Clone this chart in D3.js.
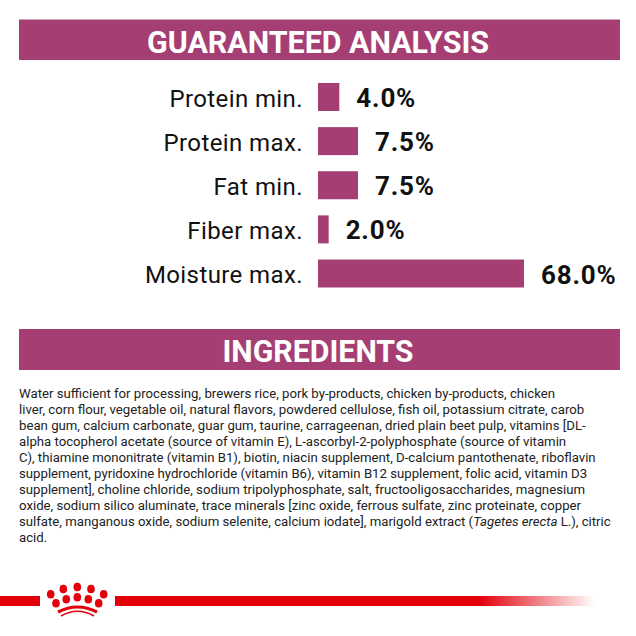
<!DOCTYPE html>
<html>
<head>
<meta charset="utf-8">
<script src="https://cdn.jsdelivr.net/npm/d3@7"></script>
<style>
html, body { margin: 0; padding: 0; background: #fff; }
svg { display: block; }
text { font-family: Roboto, sans-serif; }
</style>
</head>
<body>
<div id="chart"></div>
<script>
const categories = ["Protein min.", "Protein max.", "Fat min.", "Fiber max.", "Moisture max."];
const values = [4.0, 7.5, 7.5, 2.0, 68.0];
const valueLabels = ["4.0%", "7.5%", "7.5%", "2.0%", "68.0%"];
const headings = ["GUARANTEED ANALYSIS", "INGREDIENTS"];
const ingredientLines = [
	"Water sufficient for processing, brewers rice, pork by-products, chicken by-products, chicken",
	"liver, corn flour, vegetable oil, natural flavors, powdered cellulose, fish oil, potassium citrate, carob",
	"bean gum, calcium carbonate, guar gum, taurine, carrageenan, dried plain beet pulp, vitamins [DL-",
	"alpha tocopherol acetate (source of vitamin E), L-ascorbyl-2-polyphosphate (source of vitamin",
	"C), thiamine mononitrate (vitamin B1), biotin, niacin supplement, D-calcium pantothenate, riboflavin",
	"supplement, pyridoxine hydrochloride (vitamin B6), vitamin B12 supplement, folic acid, vitamin D3",
	"supplement], choline chloride, sodium tripolyphosphate, salt, fructooligosaccharides, magnesium",
	"oxide, sodium silico aluminate, trace minerals [zinc oxide, ferrous sulfate, zinc proteinate, copper",
	"sulfate, manganous oxide, sodium selenite, calcium iodate], marigold extract (|Tagetes erecta| L.), citric",
	"acid."
];

const FWIDTH = 636, FHEIGHT = 636;
const PLUM = "#a53f73", RED = "#e2000b";

const svg = d3.select("#chart").append("svg")
	.attr("width", FWIDTH)
	.attr("height", FHEIGHT);

// heading bands
const headingBands = [{ y: 19.5, h: 40.5, base: 53, w: 342 }, { y: 329, h: 41, base: 362, w: 191 }];
headings.forEach((t, i) => {
	const b = headingBands[i];
	svg.append("rect")
		.attr("x", 19).attr("y", b.y)
		.attr("width", 601).attr("height", b.h)
		.attr("fill", PLUM);
	svg.append("text")
		.text(t)
		.attr("x", 318)
		.attr("y", b.base)
		.attr("text-anchor", "middle")
		.attr("font-size", 32)
		.attr("font-weight", 700)
		.attr("fill", "#fff")
		.attr("textLength", b.w)
		.attr("lengthAdjust", "spacingAndGlyphs");
});

// the picture's bars are not to one scale: moisture is cut short
const x = d3.scaleLinear().domain([0, 7.5, 68]).range([0, 40, 206]);
const y = d3.scalePoint().domain(categories).range([97, 273.5]);
const BAR_X = 318, BAR_H = 28;

svg.selectAll("rect.bar")
	.data(values)
	.join("rect")
	.attr("class", "bar")
	.attr("x", BAR_X)
	.attr("y", (d, i) => y(categories[i]) - BAR_H / 2)
	.attr("width", d => x(d))
	.attr("height", BAR_H)
	.attr("fill", PLUM);

svg.selectAll("text.cat")
	.data(categories)
	.join("text")
	.attr("class", "cat")
	.text(d => d)
	.attr("x", 303)
	.attr("y", d => y(d) + 9.5)
	.attr("text-anchor", "end")
	.attr("font-size", 24)
	.attr("letter-spacing", 0.4)
	.attr("fill", "#111");

svg.selectAll("text.val")
	.data(values)
	.join("text")
	.attr("class", "val")
	.text((d, i) => valueLabels[i])
	.attr("x", d => BAR_X + x(d) + 17)
	.attr("y", (d, i) => y(categories[i]) + 10)
	.attr("font-size", 26)
	.attr("font-weight", 700)
	.attr("letter-spacing", 0.8)
	.attr("fill", "#111");

// ingredient text, |...| marks the italic part
const body = svg.append("text").attr("font-size", 13.2).attr("fill", "#222");
ingredientLines.forEach((line, i) => {
	line.split("|").forEach((part, j) => {
		const span = body.append("tspan").text(part).attr("font-style", j === 1 ? "italic" : "normal");
		if (j === 0) span.attr("x", 19).attr("y", 398 + i * 16);
	});
});

// footer stripe with crown
const grad = svg.append("defs").append("linearGradient").attr("id", "fade");
grad.append("stop").attr("offset", "0.76").attr("stop-color", RED);
grad.append("stop").attr("offset", "1").attr("stop-color", RED).attr("stop-opacity", 0);
svg.append("rect").attr("x", 0).attr("y", 596).attr("width", 40).attr("height", 10).attr("fill", RED);
svg.append("rect").attr("x", 115).attr("y", 596).attr("width", 480).attr("height", 10).attr("fill", "url(#fade)");

const crownDots = [[50.7, 594.3], [63.3, 589], [77.3, 587], [91, 589], [103.7, 594.3],
	[56, 603.3], [66.3, 599.3], [77.3, 597.3], [88.3, 599.3], [98.7, 603.3]];
svg.selectAll("ellipse.dot")
	.data(crownDots)
	.join("ellipse")
	.attr("class", "dot")
	.attr("cx", d => d[0]).attr("cy", d => d[1])
	.attr("rx", 3.8).attr("ry", 4.3)
	.attr("fill", RED);
[["M58 612 Q77.5 602 97 612", 3.2], ["M61 616 Q77.5 606.5 94 616", 1.6]].forEach(a => {
	svg.append("path").attr("d", a[0]).attr("fill", "none").attr("stroke", RED).attr("stroke-width", a[1]);
});
</script>
</body>
</html>
